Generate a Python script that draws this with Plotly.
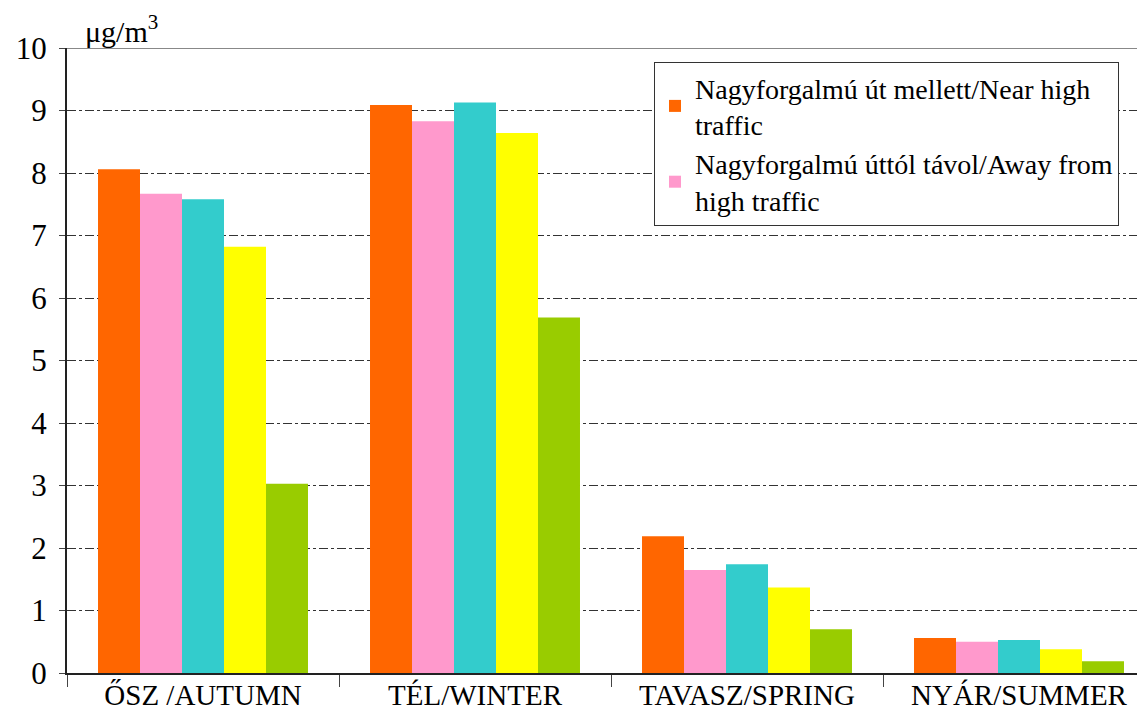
import plotly.graph_objects as go

categories = ["ŐSZ /AUTUMN", "TÉL/WINTER", "TAVASZ/SPRING", "NYÁR/SUMMER"]
series_names = [
    "Nagyforgalmú út mellett/Near high<br>traffic",
    "Nagyforgalmú úttól távol/Away from<br>high traffic",
    "Sorozat 3",
    "Sorozat 4",
    "Sorozat 5",
]
s1 = [8.06, 9.09, 2.19, 0.56]
s2 = [7.67, 8.83, 1.65, 0.50]
s3 = [7.58, 9.13, 1.74, 0.53]
s4 = [6.82, 8.64, 1.37, 0.38]
s5 = [3.03, 5.69, 0.70, 0.19]
series_values = [s1, s2, s3, s4, s5]
colors = ["#FF6600", "#FF99CC", "#33CCCC", "#FFFF00", "#99CC00"]
show_legend = [True, True, False, False, False]
y_ticks = list(range(0, 11))

FONT = "Liberation Serif"

fig = go.Figure()
for name, vals, col, sl in zip(series_names, series_values, colors, show_legend):
    fig.add_trace(go.Bar(
        x=categories, y=vals, name=name,
        marker=dict(color=col, line=dict(width=0)),
        showlegend=sl,
    ))

# page body has an 8px default margin; compensate
W, H = 1145, 725
ml, mr, mt, mb = 59, 8, 40, 60
plot_w = W - ml - mr
plot_h = H - mt - mb
cat_w = 272.0
span = plot_w / cat_w

fig.update_layout(
    width=W, height=H,
    margin=dict(l=ml, r=mr, t=mt, b=mb, autoexpand=False),
    paper_bgcolor="white", plot_bgcolor="white",
    barmode="group", bargap=0.228, bargroupgap=0,
    font=dict(family=FONT, size=29, color="black"),
    legend=dict(
        x=(654 - 67) / plot_w, y=(673 - 62) / plot_h,
        xanchor="left", yanchor="top",
        bgcolor="white", bordercolor="#333333", borderwidth=1,
        font=dict(family=FONT, size=28, color="black"),
        tracegroupgap=0, itemwidth=30,
    ),
    showlegend=True,
)
fig.update_xaxes(
    range=[-0.5, -0.5 + span],
    automargin=False,
    showline=True, linecolor="#222222", linewidth=2,
    ticks="outside", tickson="boundaries", ticklen=12, tickcolor="#444444", tickwidth=1,
    showgrid=False,
    tickfont=dict(family=FONT, size=29, color="black"),
    ticklabelstandoff=-5,
)
fig.update_yaxes(
    range=[0, 10],
    automargin=False,
    tickvals=y_ticks,
    showline=True, linecolor="#222222", linewidth=2,
    ticks="outside", ticklen=6, tickcolor="#444444",
    showgrid=True, gridcolor="#333333", gridwidth=1, griddash="dashdot",
    zeroline=False,
    tickfont=dict(family=FONT, size=31, color="black"),
    ticklabelstandoff=6,
)
fig.add_shape(type="line", xref="paper", yref="y", x0=0, x1=1, y0=10, y1=10,
              line=dict(color="#888888", width=2), layer="above")
fig.add_annotation(
    text="μg/m<sup>3</sup>", xref="paper", yref="paper",
    x=(83 - 67) / plot_w, y=1.0, xanchor="left", yanchor="bottom",
    showarrow=False, yshift=-2,
    font=dict(family=FONT, size=30, color="black"),
)

fig.write_html("out.html")
